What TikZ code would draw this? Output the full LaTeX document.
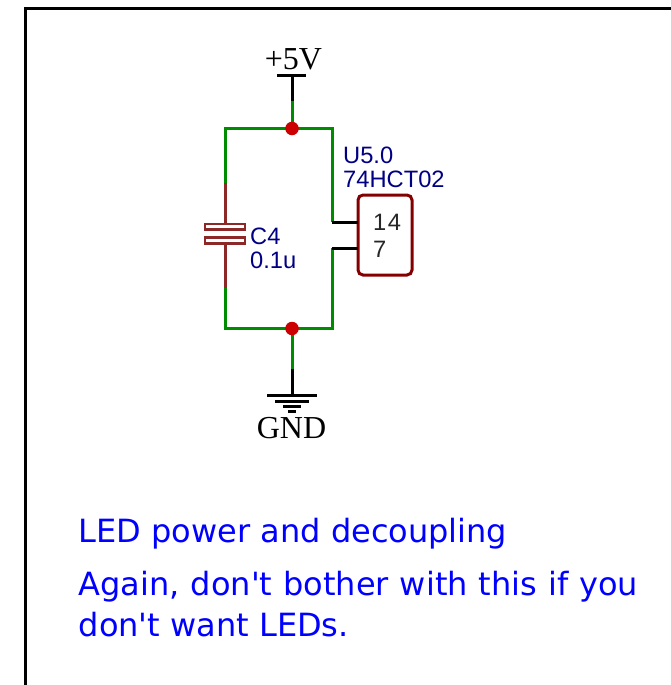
\documentclass[tikz,border=0pt]{standalone}
\usepackage{fontspec}
\setmainfont{Liberation Sans}
\newfontfamily\serifface{Liberation Serif}
\newfontfamily\noteface{DejaVu Sans}
\definecolor{wiregreen}{RGB}{0,140,0}
\definecolor{symbrown}{RGB}{132,0,0}
\definecolor{capbrown}{RGB}{140,40,40}
\definecolor{labelnavy}{RGB}{0,0,132}
\definecolor{junctionred}{RGB}{204,0,0}
\definecolor{noteblue}{RGB}{0,0,255}
\tikzset{
  wire/.style={draw=wiregreen,line width=3pt,line cap=butt,line join=miter},
  pin/.style={draw=black,line width=3pt},
  capwire/.style={draw=capbrown,line width=3pt},
  plate/.style={draw=capbrown,line width=2.8pt,fill=white,minimum width=40pt,minimum height=5.5pt,inner sep=0pt,outer sep=0pt},
  dot/.style={circle,fill=junctionred,draw=none,minimum size=13.5pt,inner sep=0pt},
  partlabel/.style={font=\fontsize{23.7}{23.7}\selectfont,text=labelnavy,anchor=base west,inner sep=0pt},
  pintext/.style={font=\fontsize{23.7}{23.7}\selectfont,text=black!85,anchor=base west,inner sep=0pt},
  powertext/.style={font=\serifface\fontsize{32}{32}\selectfont,text=black,anchor=base,inner sep=0pt},
  notetext/.style={font=\noteface\fontsize{32}{32}\selectfont,text=noteblue,anchor=base west,inner sep=0pt},
  gatebox/.style={draw=symbrown,line width=3pt,rounded corners=5pt,fill=white,minimum width=54pt,minimum height=80pt,inner sep=0pt,outer sep=0pt}
}
\begin{document}
\begin{tikzpicture}[x=1pt,y=-1pt]
\useasboundingbox (0,0) rectangle (671,685);
% frame
\draw[black,line width=3pt] (25,685) -- (25,8.5) -- (671,8.5);
% named points
\coordinate (vbar) at (292,75);
\coordinate (vtip) at (292,101);
\coordinate (tl) at (225,128.5);
\coordinate (tr) at (332,128.5);
\coordinate (bl) at (225,328.5);
\coordinate (br) at (332,328.5);
\coordinate (captop) at (225,183);
\coordinate (capbot) at (225,288);
\coordinate (p14) at (332,222);
\coordinate (p7) at (332,248);
\coordinate (gtip) at (292,369);
\coordinate (gbar) at (292,395);
% gate
\node[gatebox] (gate) at (385,235) {};
\coordinate (g14) at (gate.west |- p14);
\coordinate (g7) at (gate.west |- p7);
% capacitor leads
\node[plate] (plateA) at (225,226.7) {};
\node[plate] (plateB) at (225,240.5) {};
\draw[capwire] (captop) -- (plateA.north);
\draw[capwire] (plateB.south) -- (capbot);
% wires
\draw[wire] (vtip) -- (292,128.5);
\draw[wire] (captop) -- (tl) -- (tr) -- (p14);
\draw[wire] (capbot) -- (bl) -- (br) -- (p7);
\draw[wire] (292,328.5) -- (gtip);
% pins and power symbols
\draw[pin] (p14) -- (g14);
\draw[pin] (p7) -- (g7);
\draw[pin] (vbar) -- (vtip);
\draw[pin] (277,75) -- (306,75);
\draw[pin] (gtip) -- (gbar);
\draw[pin] (267,395) -- (317,395);
\draw[pin] (275,401) -- (309,401);
\draw[pin] (283,406.5) -- (301,406.5);
\draw[pin] (288,411.5) -- (296,411.5);
% junctions
\node[dot] (jtop) at (292,128.5) {};
\node[dot] (jbot) at (292,328.5) {};
% labels
\node[powertext] (vlabel) at (293.5,70) {+5V};
\node[powertext] (gndlabel) at (291.5,438) {GND};
\node[partlabel] (u5) at (343,163) {U5.0};
\node[partlabel] (hct) at (343,187) {74HCT02};
\node[partlabel] (c4) at (250,244) {C4};
\node[partlabel] (cval) at (250,268) {0.1u};
\node[pintext] (n14) at (373,230) {1\kern1.5pt 4};
\node[pintext] (n7) at (373,257) {7};
\node[notetext] (n1) at (78.5,542) {LED power and decoupling};
\node[notetext] (n2) at (78.5,595) {\spaceskip=11pt Again, don't bother with this if you};
\node[notetext] (n3) at (78.5,636) {don't want LEDs.};
\end{tikzpicture}
\end{document}
